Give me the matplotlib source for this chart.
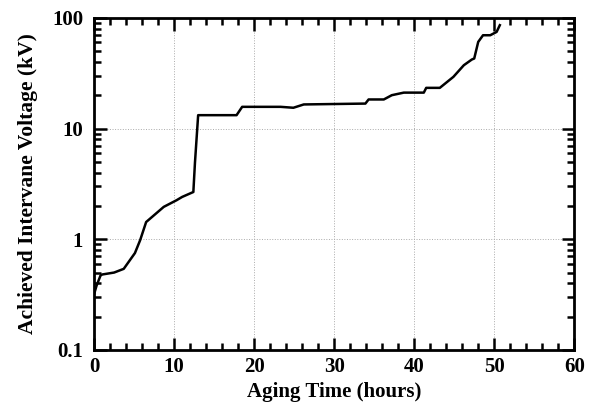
import numpy as np
import matplotlib
matplotlib.use("Agg")
import matplotlib.pyplot as plt
from matplotlib.ticker import FixedLocator, FuncFormatter, LogLocator, MultipleLocator

# aging time (hours) vs achieved intervane voltage (kV)
hours = [0.0, 0.3, 0.8, 1.0, 2.5, 3.7, 5.1, 5.75, 6.5, 8.7, 10.3, 11.0, 12.4,
         12.6, 13.0, 17.8, 18.5, 23.3, 24.9, 26.2, 33.9, 34.3, 36.2, 37.2, 38.7,
         41.2, 41.5, 43.2, 44.9, 46.2, 47.2, 47.5, 48.0, 48.6, 49.5, 50.3, 50.7]
voltage = [0.32, 0.38, 0.47, 0.48, 0.50, 0.54, 0.75, 0.98, 1.43, 1.96, 2.25, 2.41, 2.67,
           4.9, 13.2, 13.2, 15.7, 15.7, 15.4, 16.5, 16.8, 18.3, 18.3, 20.0, 21.1,
           21.1, 23.3, 23.3, 29.3, 37.3, 42.0, 42.9, 60.6, 69.6, 69.6, 74.6, 85.8]

plt.rcParams['font.family'] = ['Liberation Serif', 'DejaVu Serif']
plt.rcParams['font.weight'] = 'bold'

fig = plt.figure(figsize=(5.92, 4.05), dpi=100)
ax = fig.add_axes([0.159, 0.136, 0.811, 0.820])

ax.plot(hours, voltage, color='black', lw=1.8)

ax.set_yscale('log')
ax.set_xlim(0, 60)
ax.set_ylim(0.1, 100)
ax.xaxis.set_major_locator(MultipleLocator(10))
ax.xaxis.set_minor_locator(MultipleLocator(2))
ax.yaxis.set_major_locator(FixedLocator([0.1, 1, 10, 100]))
ax.yaxis.set_minor_locator(LogLocator(base=10, subs=np.arange(2, 10)))
ax.yaxis.set_major_formatter(FuncFormatter(lambda v, p: '%g' % v))
ax.yaxis.set_minor_formatter(FuncFormatter(lambda v, p: ''))

ax.tick_params(which='both', direction='in', top=True, right=True, width=1.8)
ax.tick_params(which='major', length=9, labelsize=15)
ax.tick_params(which='minor', length=5)
ax.tick_params(axis='x', which='major', pad=5)
ax.tick_params(axis='y', which='major', pad=8)
for s in ax.spines.values():
    s.set_linewidth(2)

ax.grid(True, which='major', color='#aaaaaa', linestyle=':', linewidth=0.7)

ax.set_xlabel('Aging Time (hours)', fontsize=15, fontweight='bold', labelpad=4)
ax.set_ylabel('Achieved Intervane Voltage (kV)', fontsize=15.5, fontweight='bold', labelpad=10)

fig.savefig('out.png', dpi=100)
